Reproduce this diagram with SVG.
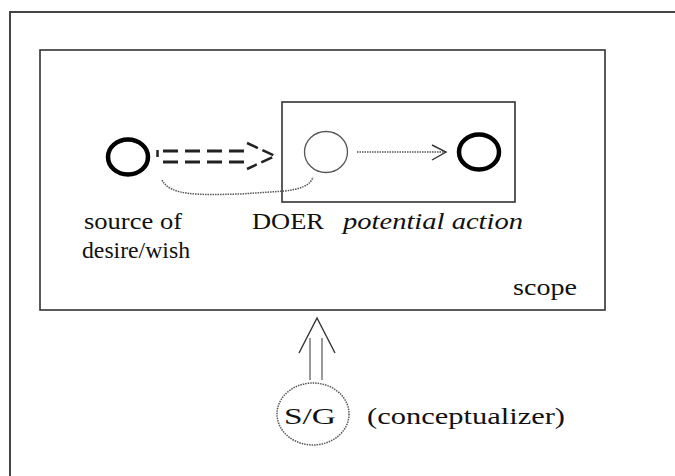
<svg xmlns="http://www.w3.org/2000/svg" width="675" height="476" viewBox="0 0 675 476">
  <defs>
    <style>
      .frame { fill: none; stroke: #444; stroke-width: 2; }
      .box { fill: none; stroke: #333; stroke-width: 1.6; }
      .thick { fill: none; stroke: #000; stroke-width: 4.5; }
      .thin { fill: none; stroke: #555; stroke-width: 1.3; }
      .dash { fill: none; stroke: #222; stroke-width: 3; stroke-dasharray: 15 7; }
      .dot { fill: none; stroke: #555; stroke-width: 1.5; stroke-dasharray: 1.5 1; }
      .shaft { fill: none; stroke: #777; stroke-width: 1.5; }
      .head { fill: none; stroke: #333; stroke-width: 1.4; }
      text { font-family: "Liberation Serif", "Times New Roman", serif; font-size: 23px; fill: #111; }
      .it { font-style: italic; }
    </style>
  </defs>
  <rect width="675" height="476" fill="#fff"/>
  <rect class="frame" x="10" y="12" width="720" height="520"/>

  <g id="scope">
    <rect class="box" x="40" y="50" width="565" height="260"/>
    <text x="513" y="295" textLength="64" lengthAdjust="spacingAndGlyphs">scope</text>
  </g>

  <g id="action-box">
    <rect class="box" x="282" y="102" width="233" height="100"/>
  </g>

  <g id="source">
    <ellipse class="thick" cx="128" cy="157" rx="20" ry="17.5"/>
    <text x="84" y="229" textLength="98" lengthAdjust="spacingAndGlyphs">source of</text>
    <text x="82" y="258" textLength="108" lengthAdjust="spacingAndGlyphs">desire/wish</text>
  </g>

  <g id="doer">
    <ellipse class="thin" cx="326" cy="152" rx="21.5" ry="20.5"/>
    <text x="252" y="229" textLength="72" lengthAdjust="spacingAndGlyphs">DOER</text>
  </g>

  <g id="potential-action">
    <ellipse class="thick" cx="479" cy="152" rx="20" ry="17.5"/>
    <text class="it" x="343" y="229" textLength="180" lengthAdjust="spacingAndGlyphs">potential action</text>
  </g>

  <g id="sg">
    <ellipse class="dot" cx="313" cy="414" rx="36" ry="31" stroke="#666"/>
    <text x="284" y="424" textLength="52" lengthAdjust="spacingAndGlyphs">S/G</text>
    <text x="367" y="424" textLength="198" lengthAdjust="spacingAndGlyphs">(conceptualizer)</text>
  </g>

  <g id="connectors">
    <line x1="157.5" y1="150" x2="157.5" y2="157" stroke="#222" stroke-width="2.5"/>
    <line class="dash" x1="163" y1="151" x2="248" y2="151"/>
    <line class="dash" x1="163" y1="162" x2="248" y2="162"/>
    <polyline points="247,143 275,156 247,169" fill="none" stroke="#222" stroke-width="2.5" stroke-dasharray="12 5"/>

    <line class="dot" x1="357" y1="152" x2="445" y2="152"/>
    <polyline class="head" points="432,145 446,152 432,160"/>

    <path class="dot" d="M162,180 C170,196 200,195 240,194 L285,191 C300,189 310,186 313,177"/>

    <line class="shaft" x1="310" y1="338" x2="310" y2="380"/>
    <line class="shaft" x1="322" y1="338" x2="322" y2="380"/>
    <polyline class="head" points="299,353 317,318 335,353"/>
  </g>
</svg>
